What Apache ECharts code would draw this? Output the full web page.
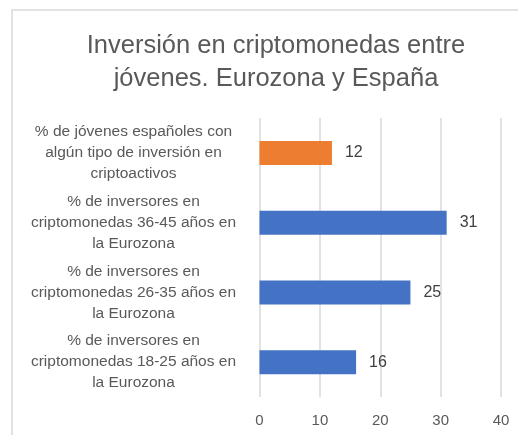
<!DOCTYPE html>
<html>
<head>
<meta charset="utf-8">
<script src="https://cdn.jsdelivr.net/npm/echarts@6/dist/echarts.min.js"></script>
<style>
  html, body { margin: 0; padding: 0; background: #fff; }
  #chart { width: 518px; height: 435px; }
</style>
</head>
<body>
<div id="chart"></div>
<script>
// categories, top to bottom
var categories = [
  '% de jóvenes españoles con\nalgún tipo de inversión en\ncriptoactivos',
  '% de inversores en\ncriptomonedas 36-45 años en\nla Eurozona',
  '% de inversores en\ncriptomonedas 26-35 años en\nla Eurozona',
  '% de inversores en\ncriptomonedas 18-25 años en\nla Eurozona'
]
var values = [12, 31, 25, 16]
var barColors = ['#ED7D31', '#4472C4', '#4472C4', '#4472C4']
var xTicks = [0, 10, 20, 30, 40]

var font = 'Liberation Sans, Open Sans, sans-serif'

var chart = echarts.init(document.getElementById('chart'))

chart.setOption({
  backgroundColor: '#fff',
  animation: false,
  title: {
    text: 'Inversión en criptomonedas entre\njóvenes. Eurozona y España',
    left: 271,
    textAlign: 'center',
    top: 24,
    textStyle: {
      fontFamily: font,
      fontSize: 25.5,
      fontWeight: 'normal',
      color: '#595959',
      lineHeight: 33
    }
  },
  graphic: [
    {
      type: 'rect',
      shape: { x: 12, y: 10, width: 530, height: 450 },
      style: { fill: 'none', stroke: '#D9D9D9', lineWidth: 1.5 },
      z: -1
    }
  ],
  grid: {
    left: 259.5,
    right: 17,
    top: 118,
    bottom: 38
  },
  xAxis: {
    type: 'value',
    min: xTicks[0],
    max: xTicks[xTicks.length - 1],
    interval: 10,
    axisLine: { show: false },
    axisTick: { show: false },
    axisLabel: {
      color: '#595959',
      fontFamily: font,
      fontSize: 15,
      margin: 16
    },
    splitLine: {
      lineStyle: { color: '#D9D9D9', width: 1.5 }
    }
  },
  yAxis: {
    type: 'category',
    inverse: true,
    data: categories,
    axisLine: { show: false },
    axisTick: { show: false },
    axisLabel: {
      color: '#595959',
      fontFamily: font,
      fontSize: 15.5,
      lineHeight: 21,
      align: 'center',
      margin: 126
    }
  },
  series: [
    {
      type: 'bar',
      barWidth: 24,
      data: values.map(function (v, i) {
        return { value: v, itemStyle: { color: barColors[i] } }
      }),
      label: {
        show: true,
        position: 'right',
        distance: 13,
        color: '#404040',
        fontFamily: font,
        fontSize: 16
      }
    }
  ]
})
</script>
</body>
</html>
